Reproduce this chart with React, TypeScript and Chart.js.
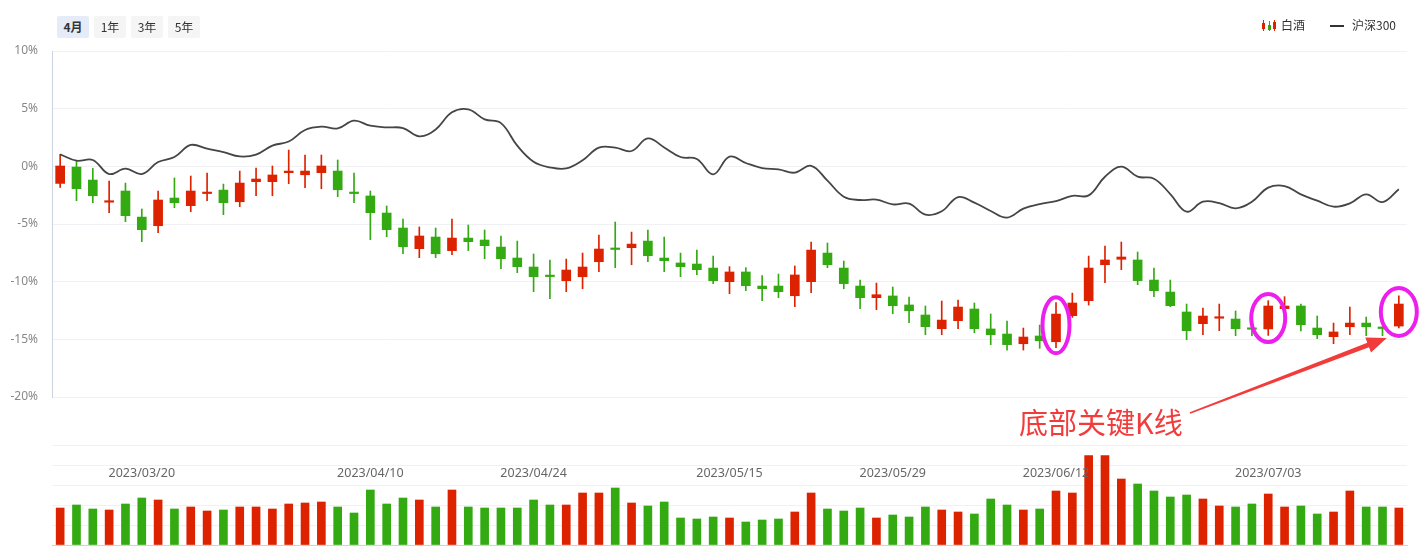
import React, { useEffect, useRef } from 'react';
import { Chart, registerables } from 'chart.js';

Chart.register(...registerables);

// ---------- data ----------
const tradeDates = [
  '2023/03/13', '2023/03/14', '2023/03/15', '2023/03/16', '2023/03/17',
  '2023/03/20', '2023/03/21', '2023/03/22', '2023/03/23', '2023/03/24',
  '2023/03/27', '2023/03/28', '2023/03/29', '2023/03/30', '2023/03/31',
  '2023/04/03', '2023/04/04', '2023/04/06', '2023/04/07',
  '2023/04/10', '2023/04/11', '2023/04/12', '2023/04/13', '2023/04/14',
  '2023/04/17', '2023/04/18', '2023/04/19', '2023/04/20', '2023/04/21',
  '2023/04/24', '2023/04/25', '2023/04/26', '2023/04/27', '2023/04/28',
  '2023/05/04', '2023/05/05',
  '2023/05/08', '2023/05/09', '2023/05/10', '2023/05/11', '2023/05/12',
  '2023/05/15', '2023/05/16', '2023/05/17', '2023/05/18', '2023/05/19',
  '2023/05/22', '2023/05/23', '2023/05/24', '2023/05/25', '2023/05/26',
  '2023/05/29', '2023/05/30', '2023/05/31', '2023/06/01', '2023/06/02',
  '2023/06/05', '2023/06/06', '2023/06/07', '2023/06/08', '2023/06/09',
  '2023/06/12', '2023/06/13', '2023/06/14', '2023/06/15', '2023/06/16',
  '2023/06/19', '2023/06/20', '2023/06/21',
  '2023/06/26', '2023/06/27', '2023/06/28', '2023/06/29', '2023/06/30',
  '2023/07/03', '2023/07/04', '2023/07/05', '2023/07/06', '2023/07/07',
  '2023/07/10', '2023/07/11', '2023/07/12', '2023/07/13',
];

const shownDates = ['2023/03/20', '2023/04/10', '2023/04/24', '2023/05/15', '2023/05/29', '2023/06/12', '2023/07/03'];

// 白酒 candles, cumulative change in %
const opens = [
  -1.48, -0.06, -1.19, -3.04, -2.14, -4.40, -5.15, -2.75, -3.41, -2.29,
  -2.06, -3.07, -1.33, -1.33, -0.55, -0.73, -0.55, -0.41, -2.23, -2.57,
  -4.05, -5.35, -7.14, -6.13, -7.31, -6.22, -6.39, -7.00, -7.95, -8.73,
  -9.43, -9.92, -9.57, -8.27, -7.08, -7.05, -6.48, -7.95, -8.38, -8.47,
  -8.82, -10.00, -9.16, -10.38, -10.38, -11.22, -10.00, -7.52, -8.82, -10.38,
  -11.39, -11.24, -12.02, -12.89, -14.08, -13.38, -12.37, -14.10, -14.54, -15.38,
  -14.71, -15.21, -12.95, -11.65, -8.53, -8.06, -8.12, -9.86, -10.90, -12.63,
  -13.64, -13.12, -13.24, -14.00, -14.10, -12.34, -12.11, -14.02, -14.77, -13.91,
  -13.59, -13.93, -13.85,
];
const closes = [
  0.03, -1.94, -2.55, -2.98, -4.28, -5.49, -2.92, -3.15, -2.14, -2.23,
  -3.15, -1.45, -1.10, -0.75, -0.41, -0.41, 0.03, -2.03, -2.35, -4.02,
  -5.49, -6.97, -6.04, -7.58, -6.22, -6.53, -6.88, -8.01, -8.70, -9.57,
  -9.48, -8.99, -8.73, -7.17, -7.14, -6.74, -7.75, -8.18, -8.70, -8.96,
  -9.92, -9.16, -10.35, -10.61, -10.87, -9.42, -7.26, -8.53, -10.17, -11.39,
  -11.13, -12.08, -12.52, -13.90, -13.33, -12.20, -14.08, -14.60, -15.46, -14.80,
  -15.12, -12.81, -11.85, -8.82, -8.12, -7.86, -9.91, -10.78, -12.08, -14.25,
  -12.98, -13.04, -14.08, -14.10, -12.11, -12.11, -13.73, -14.60, -14.36, -13.59,
  -13.91, -13.99, -11.94,
];
const highs = [
  1.04, 0.46, -0.18, -1.27, -1.45, -3.70, -2.14, -1.01, -0.84, -0.58,
  -1.54, -0.41, -0.15, 0.03, 1.41, 0.98, 0.98, 0.55, -0.58, -2.14,
  -3.44, -4.57, -5.26, -5.35, -4.57, -5.09, -5.52, -6.04, -6.48, -7.60,
  -8.12, -8.04, -7.52, -5.95, -4.83, -5.70, -5.52, -6.13, -7.52, -7.26,
  -7.78, -8.70, -8.79, -9.48, -9.34, -8.64, -6.56, -6.65, -8.21, -9.86,
  -10.12, -10.46, -11.33, -12.11, -11.68, -11.59, -11.85, -12.80, -13.41, -14.02,
  -13.76, -11.82, -10.99, -7.78, -6.91, -6.56, -7.43, -8.82, -9.86, -11.94,
  -12.29, -11.94, -12.54, -13.90, -11.65, -11.30, -11.94, -12.98, -13.59, -12.20,
  -13.07, -13.90, -11.22,
];
const lows = [
  -1.82, -2.98, -3.16, -4.02, -4.80, -6.53, -5.75, -3.59, -3.93, -2.98,
  -4.19, -3.50, -2.55, -2.55, -1.50, -1.85, -1.94, -2.63, -3.16, -6.36,
  -6.10, -7.58, -7.92, -7.92, -7.66, -7.31, -8.01, -8.88, -9.22, -10.87,
  -11.48, -10.87, -10.61, -9.13, -8.79, -8.53, -8.27, -9.13, -9.57, -9.39,
  -10.17, -11.04, -10.78, -11.65, -11.39, -12.17, -10.95, -8.79, -10.61, -12.34,
  -12.43, -12.78, -13.56, -14.60, -14.60, -14.08, -14.42, -15.46, -15.93, -15.93,
  -15.78, -15.73, -13.10, -12.03, -10.09, -8.96, -10.26, -11.30, -12.17, -15.03,
  -14.60, -14.25, -14.68, -14.68, -14.66, -12.60, -14.28, -14.94, -15.38, -14.60,
  -14.68, -14.68, -14.02,
];

// 沪深300, cumulative change in %
const hs300 = [
  1.04, 0.49, 0.55, -0.67, -0.20, -0.67, 0.37, 0.81, 1.85, 1.53,
  1.24, 0.86, 1.02, 1.80, 2.15, 3.15, 3.44, 3.29, 3.96, 3.52,
  3.38, 3.32, 2.60, 3.20, 4.68, 4.94, 4.07, 3.75, 1.79, 0.40,
  -0.09, -0.18, 0.52, 1.62, 1.62, 1.33, 2.42, 1.64, 0.81, 0.63,
  -0.70, 0.84, 0.29, -0.15, -0.26, -0.55, 0.05, -1.24, -2.63, -2.92,
  -2.89, -3.30, -3.24, -4.19, -3.90, -2.66, -3.15, -3.87, -4.45, -3.67,
  -3.27, -3.02, -2.56, -2.52, -0.90, -0.03, -0.90, -1.07, -2.40, -3.93,
  -3.07, -3.18, -3.64, -3.07, -1.85, -1.71, -2.43, -2.98, -3.50, -3.21,
  -2.43, -3.10, -1.99,
];

// 成交量 (relative units)
const volumes = [
  1.85, 2.0, 1.8, 1.75, 2.05, 2.35, 2.25, 1.8, 1.9, 1.7,
  1.75, 1.9, 1.9, 1.8, 2.05, 2.1, 2.15, 1.9, 1.6, 2.75,
  2.05, 2.35, 2.25, 1.9, 2.75, 1.9, 1.85, 1.85, 1.85, 2.25,
  2.0, 2.0, 2.6, 2.6, 2.85, 2.1, 1.95, 2.15, 1.35, 1.3,
  1.4, 1.35, 1.15, 1.25, 1.3, 1.65, 2.6, 1.8, 1.7, 1.85,
  1.35, 1.5, 1.4, 1.9, 1.75, 1.65, 1.55, 2.3, 2.0, 1.75,
  1.8, 2.7, 2.6, 4.47, 4.47, 3.3, 3.05, 2.7, 2.4, 2.5,
  2.3, 1.95, 1.9, 2.05, 2.55, 1.9, 1.95, 1.55, 1.65, 2.7,
  1.9, 1.9, 1.85,
];

const rangeButtons = ['4月', '1年', '3年', '5年'];
const highlighted = [61, 74, 82];
const annotationText = '底部关键K线';
const seriesNames = ['白酒', '沪深300'];

// ---------- styles ----------
const RED = '#dd2200';
const GREEN = '#33aa11';
const GRID = '#eff1f5';
const AXIS = '#ccd3e0';
const ANNOT_RED = '#f23c3c';
const RING = '#ec1fec';
const FONT = "'Noto Sans', 'Noto Sans CJK SC', sans-serif";
const CJK = "'Noto Sans CJK SC', 'Noto Sans', sans-serif";

const candleColors = opens.map((o, i) => (closes[i] > o ? RED : GREEN));

const annotatePlugin = {
  id: 'annotate',
  afterDatasetsDraw(chart: any) {
    const { ctx, scales } = chart;
    const xs = scales.x;
    const ys = scales.y;
    const ringSizes = [[13.5, 28], [17, 24], [18, 24]];
    ctx.save();
    ctx.strokeStyle = RING;
    ctx.lineWidth = 4;
    highlighted.forEach((idx, k) => {
      const [rx, ry] = ringSizes[k];
      const cx = xs.getPixelForValue(idx);
      const cy = ys.getPixelForValue((highs[idx] + lows[idx]) / 2);
      ctx.beginPath();
      ctx.ellipse(cx, cy, rx, ry, 0, 0, Math.PI * 2);
      ctx.stroke();
    });
    // arrow pointing at last highlighted candle
    const last = highlighted[highlighted.length - 1];
    const tipX = xs.getPixelForValue(last) - 12;
    const tipY = ys.getPixelForValue((highs[last] + lows[last]) / 2) + 26;
    const sx = 1190;
    const sy = 413;
    const dx = tipX - sx;
    const dy = tipY - sy;
    const len = Math.hypot(dx, dy);
    const ux = dx / len;
    const uy = dy / len;
    const nx = -uy;
    const ny = ux;
    const headLen = 20;
    const headW = 8;
    const w0 = 0.8;
    const w1 = 2.4;
    const bx = tipX - ux * headLen;
    const by = tipY - uy * headLen;
    ctx.fillStyle = ANNOT_RED;
    ctx.beginPath();
    ctx.moveTo(sx + nx * w0, sy + ny * w0);
    ctx.lineTo(bx + nx * w1, by + ny * w1);
    ctx.lineTo(bx + nx * headW, by + ny * headW);
    ctx.lineTo(tipX, tipY);
    ctx.lineTo(bx - nx * headW, by - ny * headW);
    ctx.lineTo(bx - nx * w1, by - ny * w1);
    ctx.lineTo(sx - nx * w0, sy - ny * w0);
    ctx.closePath();
    ctx.fill();
    ctx.restore();
  },
};

export default function App() {
  const mainRef = useRef<HTMLCanvasElement>(null);
  const volRef = useRef<HTMLCanvasElement>(null);

  useEffect(() => {
    Chart.defaults.font.family = FONT;
    const main = new Chart(mainRef.current as HTMLCanvasElement, {
      type: 'bar',
      data: {
        labels: tradeDates,
        datasets: [
          {
            type: 'line',
            label: seriesNames[1],
            data: hs300,
            borderColor: '#454545',
            borderWidth: 1.8,
            pointRadius: 0,
            tension: 0.4,
            order: 0,
          } as any,
          {
            type: 'bar',
            label: seriesNames[0],
            data: opens.map((o, i) => [o, closes[i]]),
            backgroundColor: candleColors,
            barThickness: 9,
            grouped: false,
            minBarLength: 1.5,
            order: 1,
          } as any,
          {
            type: 'bar',
            label: 'wick',
            data: lows.map((l, i) => [l, highs[i]]),
            backgroundColor: candleColors,
            barThickness: 1,
            grouped: false,
            order: 2,
          } as any,
        ],
      },
      options: {
        animation: false,
        responsive: false,
        events: [],
        layout: { padding: { top: 51, right: 15, left: 0, bottom: 0 } },
        plugins: { legend: { display: false }, tooltip: { enabled: false } },
        scales: {
          x: {
            offset: true,
            grid: { display: false, drawTicks: false },
            border: { display: false },
            ticks: {
              autoSkip: false,
              maxRotation: 0,
              minRotation: 0,
              padding: 69,
              color: '#666666',
              font: { size: 12.5, family: FONT },
              callback: (_v: any, i: number) => (shownDates.includes(tradeDates[i]) ? tradeDates[i] : ''),
            },
            afterFit: (s: any) => {
              s.height = 85;
              s.paddingLeft = 0;
              s.paddingRight = 0;
            },
          },
          y: {
            min: -20,
            max: 10,
            ticks: {
              stepSize: 5,
              padding: 14,
              color: '#888888',
              font: { size: 12, family: FONT },
              callback: (v: any) => `${v}%`,
            },
            grid: { color: GRID, drawTicks: false },
            border: { display: true, color: AXIS },
            afterFit: (s: any) => {
              s.width = 52;
            },
          },
        },
      } as any,
      plugins: [annotatePlugin],
    });

    const vol = new Chart(volRef.current as HTMLCanvasElement, {
      type: 'bar',
      data: {
        labels: tradeDates,
        datasets: [
          {
            label: '成交量',
            data: volumes,
            backgroundColor: candleColors,
            barThickness: 8,
          },
        ],
      },
      options: {
        animation: false,
        responsive: false,
        events: [],
        layout: { padding: { top: 445, right: 15, left: 52, bottom: 4 } },
        plugins: { legend: { display: false }, tooltip: { enabled: false } },
        scales: {
          x: {
            offset: true,
            grid: { display: false, drawTicks: false },
            border: { display: true, color: AXIS },
            ticks: { display: false },
            afterFit: (s: any) => {
              s.height = 0;
            },
          },
          y: {
            min: 0,
            max: 5,
            ticks: { display: false, stepSize: 1 },
            grid: { color: GRID, drawTicks: false },
            border: { display: false },
            afterFit: (s: any) => {
              s.width = 0;
            },
          },
        },
      } as any,
    });

    return () => {
      main.destroy();
      vol.destroy();
    };
  }, []);

  const btnBase: React.CSSProperties = {
    position: 'absolute',
    top: 16,
    width: 32,
    height: 22,
    lineHeight: '22px',
    textAlign: 'center',
    fontSize: 12,
    fontFamily: CJK,
    color: '#333',
    borderRadius: 2,
  };

  return (
    <div
      style={{
        position: 'absolute',
        left: 0,
        top: 0,
        width: 1422,
        height: 549,
        overflow: 'hidden',
        background: '#ffffff',
      }}
    >
      <canvas ref={volRef} width={1422} height={549} style={{ position: 'absolute', left: 0, top: 0 }} />
      <canvas ref={mainRef} width={1422} height={482} style={{ position: 'absolute', left: 0, top: 0 }} />

      {rangeButtons.map((b, i) => (
        <div
          key={b}
          style={{
            ...btnBase,
            left: 57 + i * 37,
            background: i === 0 ? '#e6ecf7' : '#f5f5f5',
            fontWeight: i === 0 ? 700 : 400,
          }}
        >
          {b}
        </div>
      ))}

      {/* legend */}
      <div style={{ position: 'absolute', left: 1262, top: 20, width: 14, height: 11 }}>
        <div style={{ position: 'absolute', left: 1, top: 0, width: 1, height: 11, background: RED }} />
        <div style={{ position: 'absolute', left: 0, top: 3, width: 3, height: 6, background: RED }} />
        <div style={{ position: 'absolute', left: 7, top: 1, width: 1, height: 10, background: GREEN }} />
        <div style={{ position: 'absolute', left: 6, top: 5, width: 3, height: 5, background: GREEN }} />
        <div style={{ position: 'absolute', left: 12, top: 0, width: 1, height: 11, background: RED }} />
        <div style={{ position: 'absolute', left: 11, top: 2, width: 3, height: 7, background: RED }} />
      </div>
      <div
        style={{ position: 'absolute', left: 1281, top: 17, fontSize: 12, lineHeight: '16px', fontFamily: CJK, color: '#333' }}
      >
        {seriesNames[0]}
      </div>
      <div style={{ position: 'absolute', left: 1330, top: 25, width: 14, height: 2, background: '#333' }} />
      <div
        style={{ position: 'absolute', left: 1352, top: 17, fontSize: 12, lineHeight: '16px', fontFamily: CJK, color: '#333' }}
      >
        {seriesNames[1]}
      </div>

      {/* annotation text */}
      <div
        style={{
          position: 'absolute',
          left: 1019,
          top: 401,
          fontSize: 29,
          lineHeight: '40px',
          fontFamily: CJK,
          color: ANNOT_RED,
          whiteSpace: 'nowrap',
        }}
      >
        {annotationText}
      </div>
    </div>
  );
}
